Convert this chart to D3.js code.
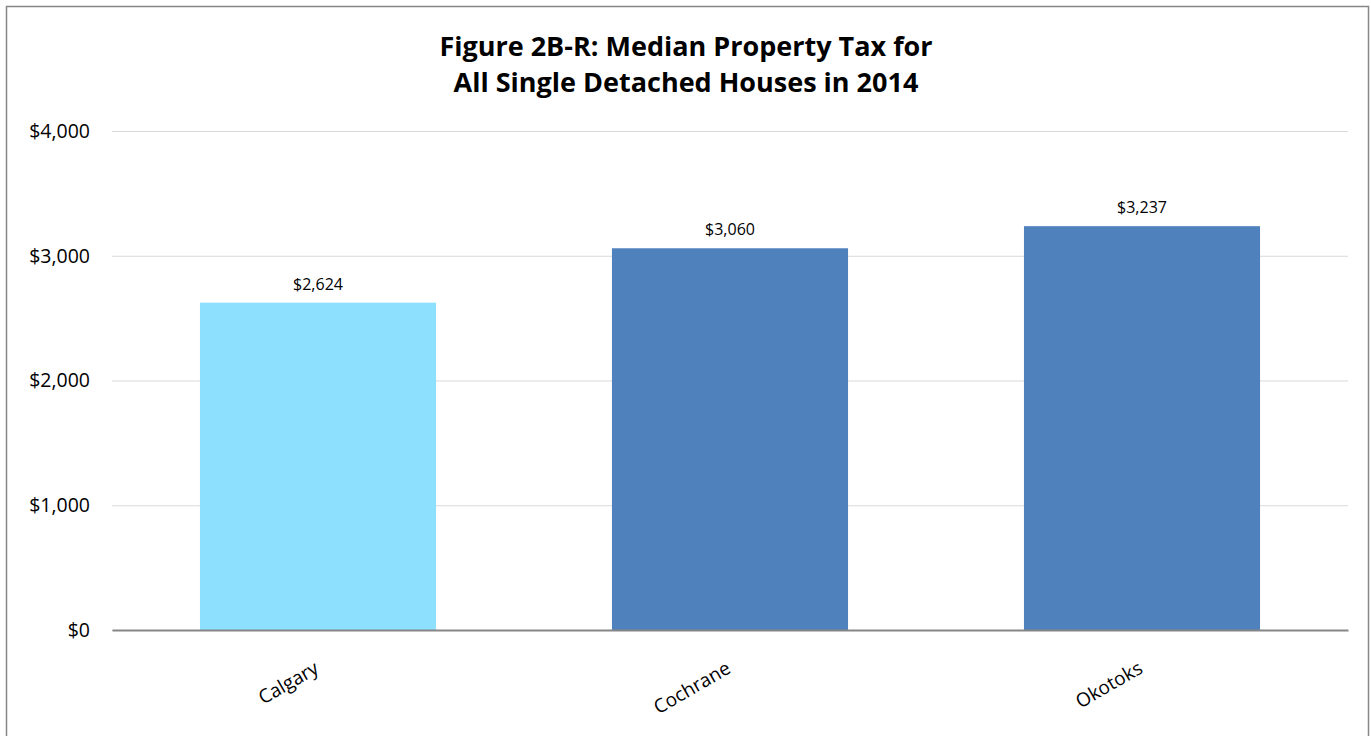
<!DOCTYPE html>
<html><head><meta charset="utf-8">
<script src="https://cdn.jsdelivr.net/npm/d3@7/dist/d3.min.js"></script>
<style>body{margin:0;background:#fff;}svg{display:block;}</style>
</head><body>
<svg id="c" width="1371" height="736"></svg>
<script>
const categories = ["Calgary", "Cochrane", "Okotoks"];
const values = [2624, 3060, 3237];
const barColors = ["#8DE1FE", "#4F81BD", "#4F81BD"];
const yTicks = [0, 1000, 2000, 3000, 4000];
const titleLines = ["Figure 2B-R: Median Property Tax for", "All Single Detached Houses in 2014"];

const svg = d3.select("#c");
const font = "'Open Sans', 'Noto Sans', sans-serif";
svg.append("rect").attr("x", 6.5).attr("y", 6.5).attr("width", 1362).attr("height", 740)
  .attr("fill", "#fff").attr("stroke", "#878787").attr("stroke-width", 1.5);

const m = {l: 112, r: 1348, t: 131, b: 630};
const x = d3.scaleBand().domain(categories).range([m.l, m.r]).paddingInner(0.427).paddingOuter(0.2135);
const y = d3.scaleLinear().domain([0, 4000]).range([m.b, m.t]);

const title = svg.append("text").attr("x", 686).attr("text-anchor", "middle")
  .attr("font-family", font).attr("font-weight", "bold").attr("font-size", 27).attr("fill", "#000");
titleLines.forEach((t, i) => title.append("tspan").attr("x", 686).attr("y", 56 + i * 36).text(t));

const yAxis = svg.append("g").attr("transform", `translate(${m.l},0)`)
  .call(d3.axisLeft(y).tickValues(yTicks).tickSize(-(m.r - m.l)).tickFormat(d => "$" + d3.format(",")(d)).tickPadding(22));
yAxis.select(".domain").remove();
yAxis.selectAll(".tick line").attr("stroke", "#d9d9d9").attr("stroke-width", 1);
yAxis.selectAll(".tick text").attr("font-family", font).attr("font-size", 19.5).attr("fill", "#000");

svg.selectAll(".bar").data(values).join("rect").attr("class", "bar")
  .attr("x", (d, i) => x(categories[i])).attr("width", x.bandwidth())
  .attr("y", d => y(d)).attr("height", d => y(0) - y(d))
  .attr("fill", (d, i) => barColors[i]);

svg.selectAll(".vl").data(values).join("text").attr("class", "vl")
  .attr("x", (d, i) => x(categories[i]) + x.bandwidth() / 2).attr("y", d => y(d) - 13)
  .attr("text-anchor", "middle").attr("font-family", font).attr("font-size", 16).attr("fill", "#000")
  .text(d => "$" + d3.format(",")(d));

const xAxis = svg.append("g").attr("transform", `translate(0,${m.b})`)
  .call(d3.axisBottom(x).tickSize(0).tickPadding(0));
xAxis.select(".domain").attr("stroke", "#868686").attr("stroke-width", 2);
xAxis.selectAll(".tick text").attr("font-family", font).attr("font-size", 19).attr("fill", "#000")
  .attr("text-anchor", "end").attr("dy", 0)
  .attr("transform", "translate(2,42) rotate(-30)");
</script>
</body></html>
